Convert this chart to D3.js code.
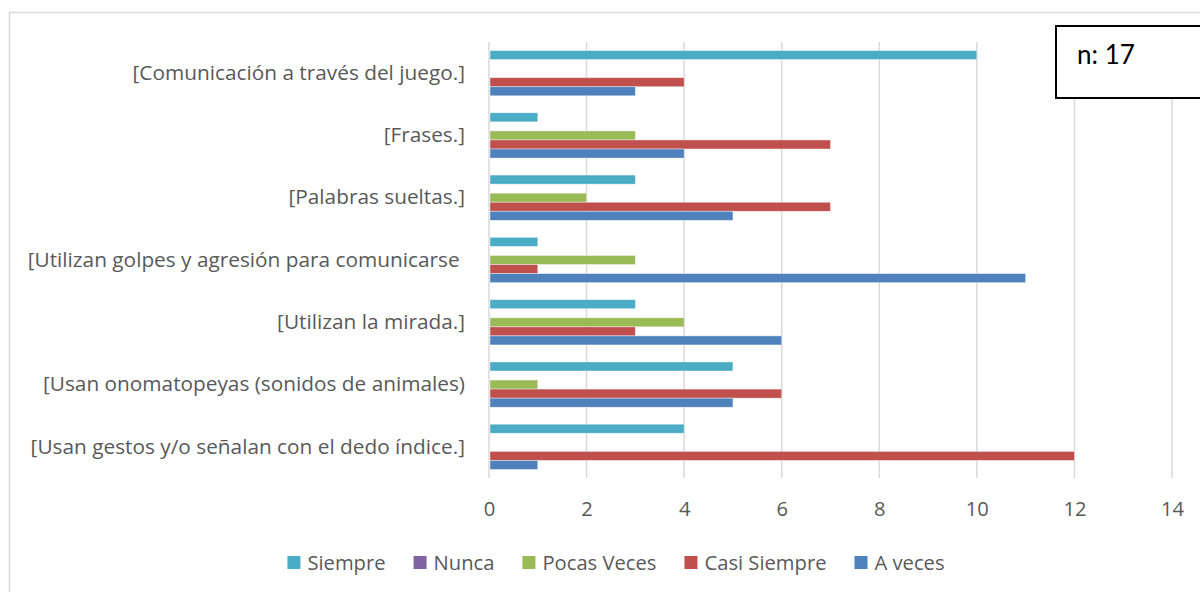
<!DOCTYPE html>
<html>
<head>
<meta charset="utf-8">
<script src="https://cdn.jsdelivr.net/npm/d3@7"></script>
<style>
  html, body { margin: 0; padding: 0; background: #fff; }
  svg { display: block; }
  text { font-family: "Open Sans", Lato, sans-serif; }
</style>
</head>
<body>
<svg id="chart" width="1200" height="592"></svg>
<script>
// ---- data ----
const categories = [
  "[Comunicación a través del juego.]",
  "[Frases.]",
  "[Palabras sueltas.]",
  "[Utilizan golpes y agresión para comunicarse ",
  "[Utilizan la mirada.]",
  "[Usan onomatopeyas (sonidos de animales)",
  "[Usan gestos y/o señalan con el dedo índice.]"
];
const seriesNames = ["Siempre", "Nunca", "Pocas Veces", "Casi Siempre", "A veces"];
const seriesColors = ["#4BACC6", "#8064A2", "#9BBB59", "#C0504D", "#4F81BD"];
const siempre     = [10, 1, 3, 1, 3, 5, 4];
const nunca       = [0, 0, 0, 0, 0, 0, 0];
const pocasVeces  = [0, 3, 2, 3, 4, 1, 0];
const casiSiempre = [4, 7, 7, 1, 3, 6, 12];
const aVeces      = [3, 4, 5, 11, 6, 5, 1];
const seriesValues = [siempre, nunca, pocasVeces, casiSiempre, aVeces];
const xTicks = [0, 2, 4, 6, 8, 10, 12, 14];
const annotation = "n: 17";

// ---- layout ----
const svg = d3.select("#chart");
const plot = { left: 489, right: 1172, top: 42, bottom: 478 };
const textColor = "#595959";
const gridColor = "#d9d9d9";
const labelFont = "'Open Sans', Lato, sans-serif";
const catSize = 20.8;
const labelSize = 20.2;

// outer chart border
svg.append("rect")
  .attr("x", 9.5).attr("y", 12.5)
  .attr("width", 1300).attr("height", 700)
  .attr("fill", "none").attr("stroke", gridColor).attr("stroke-width", 1.5);

const x = d3.scaleLinear().domain([0, 14]).range([plot.left, plot.right]);
const y = d3.scaleBand().domain(categories).range([plot.top, plot.bottom])
  .paddingInner(0.273).paddingOuter(0.1365);
const ySub = d3.scaleBand().domain(seriesNames).range([0, y.bandwidth()]);

// gridlines
svg.append("g").selectAll("line").data(xTicks).join("line")
  .attr("x1", d => x(d)).attr("x2", d => x(d))
  .attr("y1", plot.top).attr("y2", plot.bottom)
  .attr("stroke", gridColor).attr("stroke-width", 1.5);

// bars
const rows = [];
categories.forEach((c, i) => {
  seriesNames.forEach((s, j) => {
    rows.push({ cat: c, series: s, value: seriesValues[j][i], color: seriesColors[j] });
  });
});
svg.append("g").selectAll("rect").data(rows.filter(d => d.value > 0)).join("rect")
  .attr("x", x(0) + 1)
  .attr("y", d => y(d.cat) + ySub(d.series))
  .attr("width", d => x(d.value) - x(0) - 1)
  .attr("height", ySub.bandwidth())
  .attr("fill", d => d.color)
  .attr("stroke", "#ffffff").attr("stroke-opacity", 0.5).attr("stroke-width", 0.8);

// category labels
const yAxis = d3.axisLeft(y).tickSize(0).tickPadding(24);
const yg = svg.append("g").attr("transform", `translate(${plot.left},0)`).call(yAxis);
yg.select(".domain").remove();
yg.selectAll("text")
  .attr("fill", textColor).attr("font-size", catSize)
  .style("font-family", labelFont)
  .style("white-space", "pre");

// x axis tick labels
const xAxis = d3.axisBottom(x).tickValues(xTicks).tickSize(0).tickPadding(24);
const xg = svg.append("g").attr("transform", `translate(0,${plot.bottom})`).call(xAxis);
xg.select(".domain").remove();
xg.selectAll("text")
  .attr("fill", textColor).attr("font-size", labelSize)
  .style("font-family", labelFont);

// legend
const legend = svg.append("g");
const items = legend.selectAll("g").data(seriesNames).join("g");
items.append("rect").attr("width", 13).attr("height", 13).attr("y", -7)
  .attr("fill", (d, i) => seriesColors[i]);
items.append("text").attr("x", 20).attr("dy", "0.35em")
  .attr("fill", textColor).attr("font-size", labelSize)
  .style("font-family", labelFont).text(d => d);
let cx = 0;
const pos = [];
items.each(function () {
  const w = this.querySelector("text").getComputedTextLength();
  pos.push(cx);
  cx += 20 + w + 28;
});
const totalW = cx - 28;
const startX = 616 - totalW / 2;
items.attr("transform", (d, i) => `translate(${startX + pos[i]},563)`);

// n annotation box
svg.append("rect")
  .attr("x", 1056).attr("y", 26).attr("width", 200).attr("height", 72)
  .attr("fill", "#fff").attr("stroke", "#000").attr("stroke-width", 2);
svg.append("text").attr("x", 1077).attr("y", 55).attr("dy", "0.35em")
  .attr("font-size", 26).attr("fill", "#000")
  .style("font-family", "Lato, 'Open Sans', sans-serif").text(annotation);
</script>
</body>
</html>
